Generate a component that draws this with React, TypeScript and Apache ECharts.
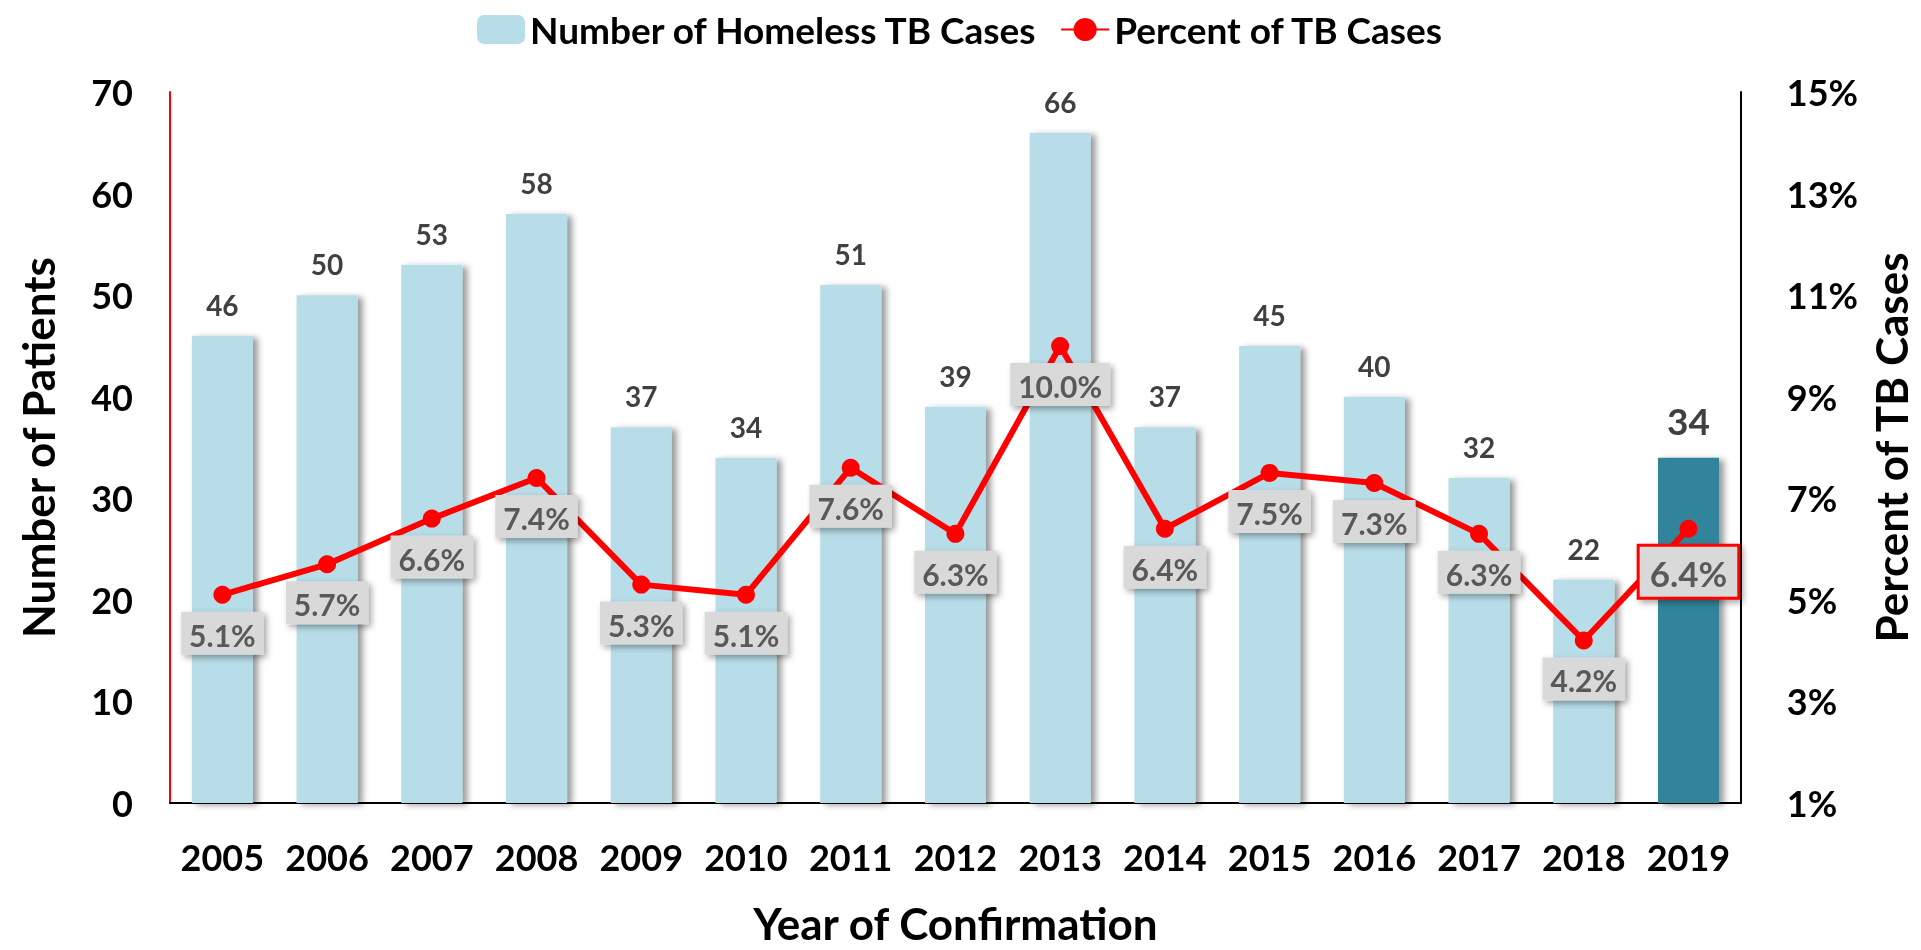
import React, { useEffect, useRef } from "react";
import * as echarts from "echarts";

const years = ["2005","2006","2007","2008","2009","2010","2011","2012","2013","2014","2015","2016","2017","2018","2019"];
const homelessCases = [46, 50, 53, 58, 37, 34, 51, 39, 66, 37, 45, 40, 32, 22, 34];
const percentCases = [5.1, 5.7, 6.6, 7.4, 5.3, 5.1, 7.6, 6.3, 10.0, 6.4, 7.5, 7.3, 6.3, 4.2, 6.4];
const leftTicks = { min: 0, max: 70, interval: 10 };
const rightTicks = { min: 1, max: 15, interval: 2 };

const FONT = "Lato";
const LIGHT = "#B7DDE8";
const DARK = "#31849B";

export default function App() {
  const ref = useRef<HTMLDivElement>(null);
  useEffect(() => {
    document.body.style.margin = "0";
    const chart = echarts.init(ref.current!, null, { renderer: "svg" });
    const last = years.length - 1;
    const barData = homelessCases.map((v, i) =>
      i === last
        ? { value: v, itemStyle: { color: DARK }, label: { fontSize: 37, distance: 19 } }
        : { value: v }
    );
    const lineData = percentCases.map((v, i) =>
      i === last
        ? {
            value: v,
            label: {
              fontSize: 35,
              borderColor: "#FF0000",
              borderWidth: 3,
              distance: 9,
              padding: [9, 10, 6, 10],
            },
          }
        : { value: v }
    );
    chart.setOption({
      animation: false,
      textStyle: { fontFamily: FONT },
      legend: {
        top: 6,
        left: "center",
        itemWidth: 48,
        itemHeight: 29,
        itemGap: 22,
        textStyle: { fontFamily: FONT, fontWeight: "bold", fontSize: 37, color: "#000" },
        data: ["Number of Homeless TB Cases", "Percent of TB Cases"],
      },
      grid: { left: 170, right: 170, top: 92, bottom: 138 },
      xAxis: {
        type: "category",
        data: years,
        axisLine: { show: true, lineStyle: { color: "#000", width: 2 } },
        axisTick: { show: false },
        axisLabel: { interval: 0, fontFamily: FONT, fontWeight: "bold", fontSize: 36, color: "#000", margin: 36 },
        name: "Year of Confirmation",
        nameLocation: "middle",
        nameGap: 98,
        nameTextStyle: { fontFamily: FONT, fontWeight: "bold", fontSize: 44, color: "#000" },
      },
      yAxis: [
        {
          type: "value",
          min: leftTicks.min,
          max: leftTicks.max,
          interval: leftTicks.interval,
          axisLine: { show: true, lineStyle: { color: "#FF0000", width: 2 } },
          axisTick: { show: false },
          splitLine: { show: false },
          axisLabel: { fontFamily: FONT, fontWeight: "bold", fontSize: 36, color: "#000", margin: 37 },
          name: "Number of Patients",
          nameLocation: "middle",
          nameGap: 110,
          nameTextStyle: { fontFamily: FONT, fontWeight: "bold", fontSize: 44, color: "#000" },
        },
        {
          type: "value",
          min: rightTicks.min,
          max: rightTicks.max,
          interval: rightTicks.interval,
          position: "right",
          axisLine: { show: true, lineStyle: { color: "#000", width: 2 } },
          axisTick: { show: false },
          splitLine: { show: false },
          axisLabel: {
            fontFamily: FONT,
            fontWeight: "bold",
            fontSize: 36,
            color: "#000",
            margin: 46,
            formatter: (v: number) => v + "%",
          },
          name: "Percent of TB Cases",
          nameLocation: "middle",
          nameGap: 102,
          nameRotate: 90,
          nameTextStyle: { fontFamily: FONT, fontWeight: "bold", fontSize: 44, color: "#000" },
        },
      ],
      series: [
        {
          name: "Number of Homeless TB Cases",
          type: "bar",
          yAxisIndex: 0,
          barWidth: 61,
          data: barData,
          itemStyle: {
            color: LIGHT,
            shadowColor: "rgba(0,0,0,0.4)",
            shadowBlur: 6,
            shadowOffsetX: 5,
            shadowOffsetY: 2,
          },
          label: {
            show: true,
            position: "top",
            distance: 17,
            fontFamily: FONT,
            fontWeight: "bold",
            fontSize: 28,
            color: "#404040",
          },
          z: 1,
        },
        {
          name: "Percent of TB Cases",
          type: "line",
          yAxisIndex: 1,
          data: lineData,
          symbol: "circle",
          symbolSize: 18,
          lineStyle: { color: "#FF0000", width: 6 },
          itemStyle: { color: "#FF0000" },
          label: {
            show: true,
            position: "bottom",
            distance: 8,
            formatter: (p: any) => p.value.toFixed(1) + "%",
            fontFamily: FONT,
            fontWeight: "bold",
            fontSize: 30,
            color: "#595959",
            backgroundColor: "#D9D9D9",
            padding: [8, 8, 5, 8],
            shadowColor: "rgba(0,0,0,0.35)",
            shadowBlur: 6,
            shadowOffsetX: 3,
            shadowOffsetY: 3,
          },
          z: 3,
        },
      ],
    });
    return () => chart.dispose();
  }, []);
  return <div ref={ref} style={{ position: "fixed", left: 0, top: 0, width: 1921, height: 950 }} />;
}
